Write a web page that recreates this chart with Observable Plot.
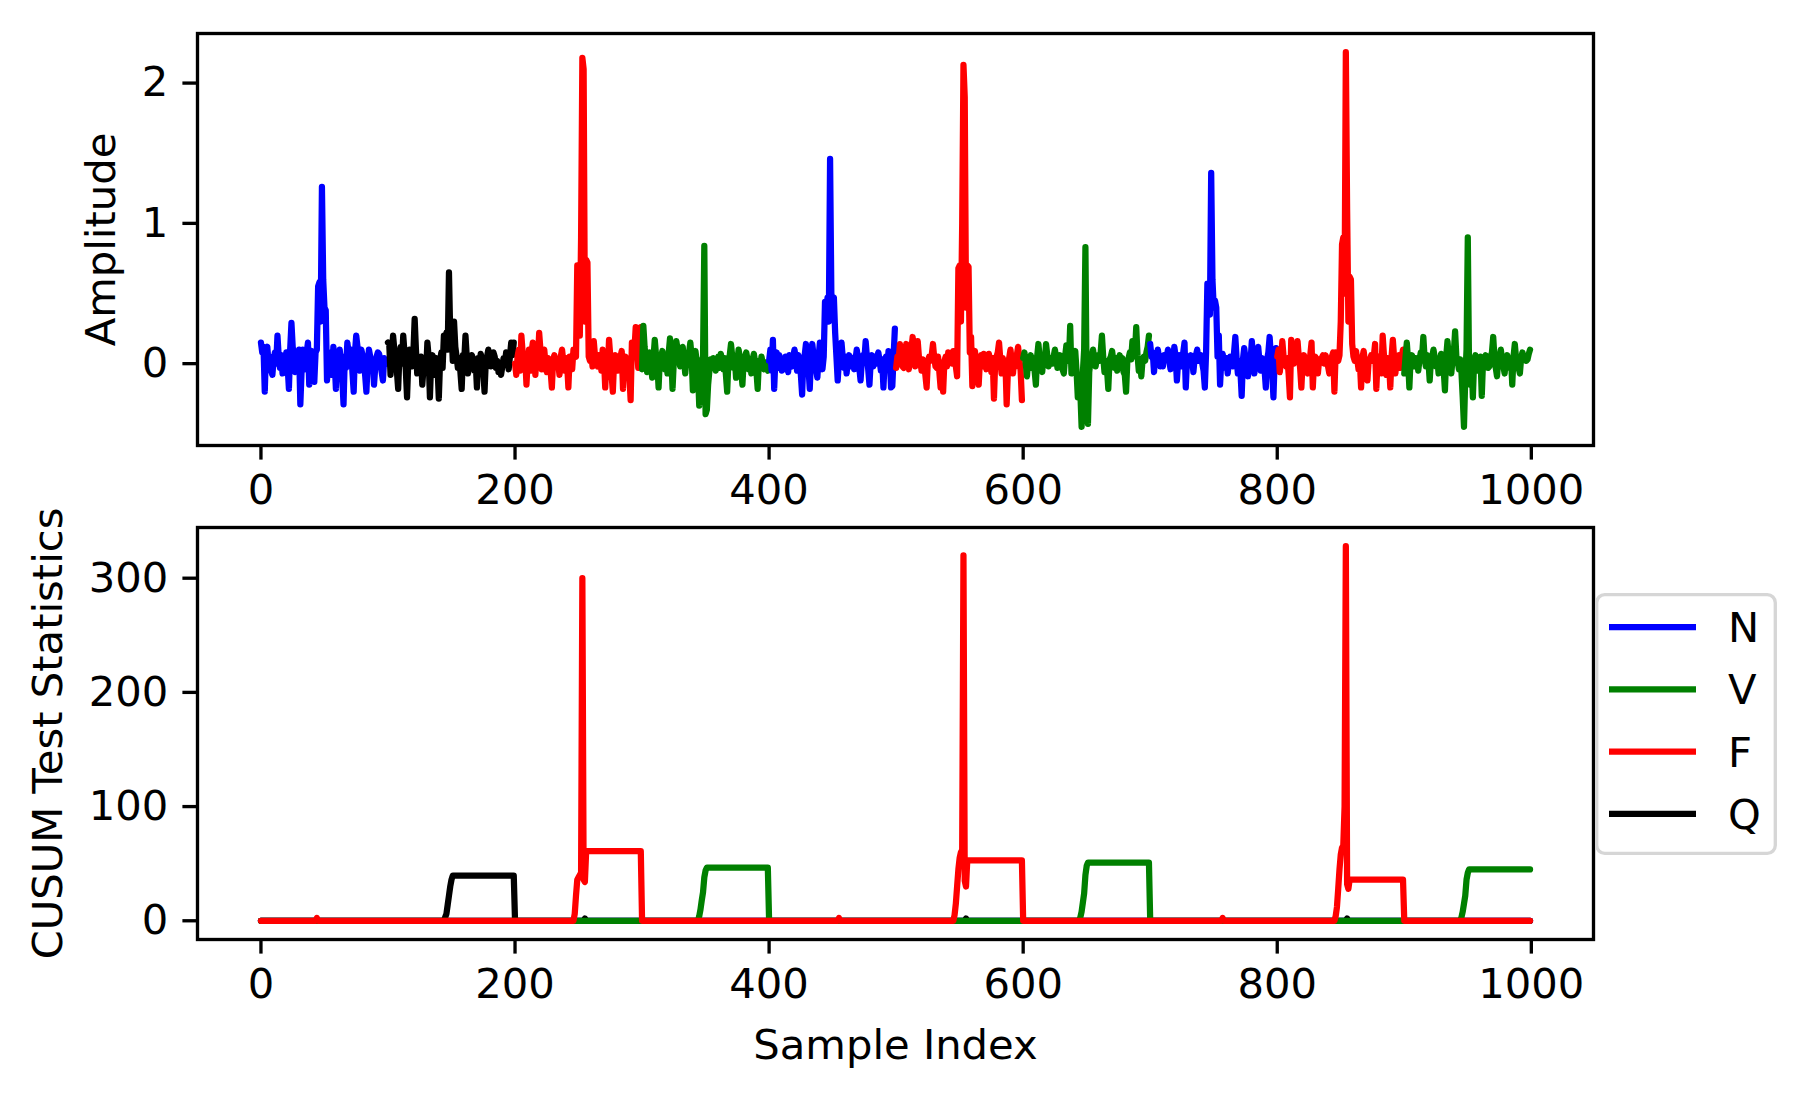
<!DOCTYPE html>
<html>
<head>
<meta charset="utf-8">
<script src="https://cdn.jsdelivr.net/npm/d3@7"></script>
<script src="https://cdn.jsdelivr.net/npm/@observablehq/plot@0.6"></script>
<style>
  body { margin: 0; background: #fff; }
  #fig { position: relative; width: 1805px; height: 1099px; background: #fff; font-family: "DejaVu Sans", sans-serif; }
  #fig > svg { position: absolute; left: 0; }
</style>
</head>
<body>
<div id="fig"></div>
<script>
// ---------------- data ----------------
const classes = ["N", "V", "F", "Q"];
const classColors = ["#0000ff", "#008000", "#ff0000", "#000000"];
const segmentClasses = ["N", "Q", "F", "V", "N", "F", "V", "N", "F", "V"];
const segmentLength = 100;

const amplitude = [
  // 0-99 N
  0.15, 0.08, 0.12, -0.20, 0.10, 0.12, 0.00, 0.05, -0.05, -0.08,
  0.03, 0.08, 0.00, 0.20, 0.05, -0.03, 0.06, -0.07, 0.04, 0.00,
  0.08, -0.02, -0.18, 0.10, 0.29, 0.12, 0.05, -0.06, 0.08, 0.02,
  0.10, -0.29, -0.05, 0.10, 0.06, -0.04, 0.08, 0.15, -0.15, 0.05,
  0.09, 0.02, -0.13, 0.08, 0.10, 0.55, 0.58, 0.30, 1.26, 0.60,
  0.40, 0.38, -0.12, 0.08, -0.05, 0.03, -0.08, 0.12, 0.02, -0.18,
  0.06, -0.04, 0.10, 0.00, -0.10, -0.29, 0.05, -0.03, 0.15, 0.08,
  0.02, 0.10, -0.06, -0.20, 0.08, 0.20, 0.12, 0.05, -0.05, 0.10,
  0.06, 0.02, -0.08, -0.20, 0.00, 0.10, 0.05, -0.04, 0.03, -0.15,
  -0.02, 0.05, 0.08, 0.07, 0.02, -0.06, -0.12, 0.04, 0.01, 0.00,
  // 100-199 Q
  0.15, 0.14, -0.08, 0.05, 0.20, 0.10, 0.02, -0.05, -0.18, 0.06,
  0.12, 0.00, 0.20, 0.08, -0.04, -0.24, 0.02, 0.10, 0.05, -0.02,
  0.08, 0.32, 0.10, -0.07, 0.02, -0.04, 0.05, -0.15, -0.03, 0.04,
  -0.06, 0.15, 0.05, -0.24, 0.02, 0.06, 0.03, -0.08, 0.04, -0.02,
  -0.25, 0.02, 0.08, -0.03, 0.20, 0.18, 0.22, 0.10, 0.65, 0.20,
  0.25, 0.02, 0.30, 0.12, 0.05, -0.03, 0.04, -0.06, -0.18, 0.06,
  0.02, 0.20, 0.05, -0.07, 0.03, -0.03, 0.06, 0.03, -0.05, 0.02,
  -0.17, 0.04, 0.00, 0.07, 0.03, -0.05, -0.20, 0.02, 0.05, 0.10,
  0.04, -0.02, 0.06, 0.08, 0.05, -0.03, 0.02, -0.06, 0.00, -0.08,
  -0.02, 0.04, 0.00, 0.08, 0.03, -0.04, 0.05, 0.15, 0.06, 0.15,
  // 200-299 F
  0.00, -0.08, 0.05, 0.10, -0.05, 0.20, 0.08, -0.03, 0.05, -0.15,
  0.02, 0.10, -0.05, 0.08, 0.15, 0.05, -0.08, 0.06, 0.02, 0.22,
  0.10, -0.04, 0.05, 0.10, 0.00, -0.06, 0.04, 0.02, -0.05, -0.17,
  0.03, 0.06, -0.02, 0.03, 0.00, -0.08, 0.05, 0.10, 0.02, -0.05,
  0.04, 0.00, -0.17, 0.05, 0.02, -0.04, 0.10, 0.06, 0.05, 0.70,
  0.68, 0.20, 0.90, 2.18, 2.10, 0.30, 0.74, 0.72, 0.05, 0.02,
  0.08, -0.02, 0.16, 0.05, 0.00, -0.02, 0.06, 0.02, -0.05, 0.10,
  0.04, -0.17, 0.02, -0.05, 0.17, 0.05, -0.08, -0.20, 0.02, 0.06,
  0.03, -0.05, 0.00, 0.05, 0.09, -0.18, 0.02, 0.05, -0.04, 0.00,
  -0.08, -0.26, 0.15, 0.05, 0.10, 0.26, 0.12, -0.03, 0.10, 0.26,
  // 300-399 V
  -0.04, 0.27, 0.12, 0.02, -0.06, 0.05, 0.08, -0.02, -0.10, 0.04,
  0.17, 0.06, 0.00, -0.17, 0.03, 0.05, 0.09, 0.02, -0.04, 0.05,
  -0.07, 0.08, 0.18, 0.05, -0.18, 0.02, 0.08, 0.16, 0.10, 0.03,
  -0.02, 0.06, 0.12, 0.02, -0.07, 0.04, 0.00, 0.08, 0.15, 0.05,
  -0.19, 0.03, 0.09, 0.02, -0.05, -0.30, -0.10, 0.02, 0.05, 0.84,
  -0.36, -0.33, -0.15, -0.05, 0.03, -0.02, 0.04, 0.00, -0.05, 0.02,
  0.05, -0.03, 0.07, 0.02, -0.04, 0.04, -0.08, -0.20, 0.02, 0.06,
  0.14, 0.05, -0.03, 0.04, -0.10, 0.02, 0.10, 0.04, -0.05, -0.15,
  0.02, 0.05, 0.08, 0.03, -0.04, 0.02, -0.07, 0.03, 0.07, 0.01,
  -0.05, -0.18, 0.02, -0.02, 0.05, 0.00, -0.04, 0.01, -0.03, -0.05,
  // 400-499 N
  0.02, 0.10, -0.05, 0.17, -0.18, 0.04, 0.08, -0.03, 0.06, 0.02,
  -0.05, 0.03, -0.04, 0.05, 0.00, -0.06, 0.06, 0.02, -0.02, 0.05,
  0.10, 0.04, -0.05, 0.06, 0.02, -0.08, -0.22, 0.03, 0.06, 0.14,
  0.05, -0.03, -0.18, 0.04, 0.14, 0.06, 0.02, -0.04, -0.10, 0.05,
  0.15, 0.06, -0.04, 0.05, 0.44, 0.40, 0.47, 0.30, 1.46, 0.50,
  0.45, 0.47, 0.22, 0.05, -0.12, 0.03, 0.08, 0.15, 0.04, -0.03,
  0.05, -0.07, 0.02, 0.06, -0.02, 0.00, 0.04, -0.04, 0.03, 0.10,
  0.04, -0.03, -0.12, 0.02, 0.06, 0.03, 0.16, 0.05, -0.04, -0.15,
  0.02, 0.06, -0.02, 0.03, 0.00, 0.05, 0.08, 0.02, -0.05, 0.03,
  -0.17, 0.02, 0.05, -0.02, 0.09, 0.03, -0.17, -0.16, 0.05, 0.25,
  // 500-599 F
  -0.03, 0.05, 0.02, 0.14, 0.05, -0.02, -0.03, 0.06, 0.14, 0.02,
  -0.04, 0.05, 0.10, 0.19, 0.06, -0.02, 0.08, 0.16, 0.04, 0.02,
  -0.05, 0.03, 0.00, -0.08, -0.17, 0.02, 0.05, 0.02, 0.06, 0.14,
  0.04, -0.02, -0.03, 0.05, -0.06, -0.17, 0.00, -0.20, 0.02, 0.05,
  -0.02, 0.08, 0.03, 0.06, 0.00, 0.09, 0.04, -0.02, -0.09, 0.68,
  0.70, 0.30, 1.00, 2.13, 1.90, 0.40, 0.70, 0.69, 0.08, 0.19,
  -0.16, 0.04, 0.09, 0.02, -0.05, -0.15, 0.03, 0.06, -0.02, 0.07,
  0.02, -0.04, 0.03, 0.07, 0.02, -0.06, 0.04, -0.25, 0.02, 0.05,
  0.08, 0.15, 0.03, -0.07, 0.04, -0.03, 0.02, -0.29, -0.05, 0.04,
  0.10, 0.02, -0.07, 0.05, -0.02, 0.06, 0.12, 0.03, -0.05, -0.26,
  // 600-699 V
  0.04, 0.08, 0.00, -0.09, 0.03, 0.02, 0.06, -0.03, 0.04, -0.05,
  -0.15, 0.05, 0.14, 0.04, -0.02, -0.06, 0.05, 0.02, 0.14, 0.06,
  -0.02, 0.03, 0.04, 0.00, 0.05, 0.10, 0.04, -0.03, 0.02, 0.06,
  0.01, -0.04, -0.07, 0.05, 0.13, 0.04, 0.02, 0.27, -0.07, 0.03,
  0.05, 0.09, -0.05, -0.24, -0.10, -0.20, -0.45, -0.06, 0.10, 0.83,
  -0.20, -0.43, -0.06, 0.02, 0.05, 0.10, 0.03, -0.02, 0.04, 0.06,
  0.02, 0.08, 0.20, 0.05, -0.06, 0.02, -0.04, -0.18, 0.03, 0.05,
  0.09, 0.02, -0.03, 0.04, -0.05, 0.02, 0.06, 0.00, 0.04, -0.06,
  -0.08, -0.20, 0.02, 0.04, 0.08, 0.03, 0.16, 0.05, 0.08, 0.26,
  0.06, -0.05, 0.02, -0.09, 0.03, 0.05, 0.02, 0.08, 0.12, 0.20,
  // 700-799 N
  0.14, 0.05, 0.08, -0.06, 0.04, 0.02, 0.10, 0.04, -0.02, 0.05,
  -0.02, 0.06, 0.03, 0.05, 0.10, 0.02, -0.04, 0.06, 0.03, 0.12,
  0.05, -0.12, 0.02, 0.06, 0.04, -0.02, 0.08, 0.15, -0.17, 0.03,
  0.05, 0.00, 0.06, 0.02, -0.06, 0.04, 0.06, 0.10, 0.02, 0.05,
  0.06, 0.00, -0.05, -0.17, 0.08, 0.57, 0.45, 0.35, 1.36, 0.60,
  0.40, 0.45, 0.40, 0.05, 0.20, -0.15, 0.03, 0.07, 0.02, -0.03,
  0.04, -0.07, 0.02, 0.05, 0.03, -0.02, 0.08, 0.19, 0.04, -0.07,
  0.02, -0.05, -0.23, 0.03, 0.11, 0.04, -0.02, -0.09, 0.05, 0.02,
  0.16, 0.04, -0.07, 0.03, 0.06, 0.12, 0.02, -0.05, 0.04, 0.01,
  -0.04, -0.17, 0.03, 0.08, 0.19, 0.05, -0.05, -0.24, 0.04, 0.11,
  // 800-899 F
  0.05, 0.10, -0.06, 0.03, 0.16, 0.05, 0.02, -0.02, 0.04, -0.08,
  -0.24, 0.17, 0.06, 0.00, 0.02, 0.05, 0.16, 0.04, -0.03, -0.17,
  0.02, 0.06, 0.02, -0.02, -0.07, 0.03, 0.06, 0.15, -0.17, 0.02,
  0.05, 0.00, -0.07, 0.03, 0.02, 0.04, 0.06, 0.00, 0.06, 0.03,
  -0.02, -0.07, 0.02, 0.05, 0.08, -0.20, 0.08, 0.04, 0.02, 0.06,
  0.30, 0.85, 0.90, 0.50, 2.22, 1.10, 0.30, 0.62, 0.60, 0.14,
  0.05, 0.02, 0.09, 0.03, -0.04, 0.02, -0.17, 0.04, 0.09, 0.02,
  -0.03, -0.12, 0.03, 0.02, 0.06, 0.02, 0.05, 0.14, -0.18, 0.03,
  0.05, 0.00, -0.07, 0.20, 0.06, 0.02, -0.08, 0.04, 0.00, -0.17,
  0.05, 0.17, 0.04, -0.07, 0.03, 0.02, 0.06, -0.03, 0.05, 0.10,
  // 900-999 V
  -0.07, 0.05, 0.15, 0.02, -0.17, 0.04, 0.06, 0.03, -0.02, 0.04,
  0.02, -0.05, 0.03, 0.08, 0.05, 0.19, 0.04, -0.02, 0.06, 0.02,
  -0.12, 0.03, 0.05, 0.10, 0.04, -0.02, 0.03, -0.07, 0.02, 0.07,
  0.03, -0.04, -0.19, 0.05, 0.16, 0.05, 0.02, -0.07, 0.03, 0.08,
  0.23, 0.05, 0.02, -0.04, 0.03, -0.06, -0.24, -0.45, -0.10, 0.10,
  0.90, -0.06, -0.15, 0.02, -0.24, 0.03, 0.06, 0.02, -0.05, 0.03,
  0.05, -0.23, 0.02, 0.04, 0.06, 0.02, -0.03, -0.02, 0.05, 0.08,
  0.19, 0.04, -0.03, -0.09, 0.03, 0.05, 0.10, 0.03, -0.02, -0.07,
  0.03, 0.06, 0.02, -0.03, 0.04, -0.15, 0.05, 0.14, 0.04, 0.02,
  -0.03, -0.07, 0.04, 0.08, 0.03, 0.05, 0.02, 0.03, 0.07, 0.10
];

// CUSUM test statistics per class, as (sample index, value) breakpoints
const cusumXN = [0, 999];
const cusumYN = [0, 0];
const cusumXQ = [0, 144, 145, 146, 147, 148, 149, 150, 151, 199, 200, 254, 255, 256, 554, 555, 556, 854, 855, 856, 999];
const cusumYQ = [0, 0, 3, 6, 14, 22, 30, 36, 39.5, 39.5, 0, 0, 2, 0, 0, 2, 0, 0, 2, 0, 0];
const cusumXV = [0, 344, 345, 346, 347, 348, 349, 350, 351, 399, 400,
                 644, 645, 646, 647, 648, 649, 650, 651, 699, 700,
                 944, 945, 946, 947, 948, 949, 950, 951, 999];
const cusumYV = [0, 0, 4, 10, 18, 25, 38, 44, 46.5, 46.5, 0,
                 0, 3, 8, 16, 24, 40, 48, 51, 51, 0,
                 0, 3, 8, 15, 22, 36, 42, 45, 45];
const cusumXF = [0, 43, 44, 45,
                 246, 247, 248, 249, 250, 251, 252, 253, 254, 255, 256, 299, 300,
                 454, 455, 456,
                 545, 546, 547, 548, 549, 550, 551, 552, 553, 554, 555, 556, 599, 600,
                 756, 757, 758,
                 845, 846, 847, 848, 849, 850, 851, 852, 853, 854, 855, 856, 857, 899, 900, 999];
const cusumYF = [0, 0, 2.5, 0,
                 0, 6, 22, 36, 38, 40, 42, 300, 36, 34, 61, 61, 0,
                 0, 2.5, 0,
                 0, 5, 15, 30, 45, 55, 60, 62, 320, 35, 30, 53, 53, 0,
                 0, 2.5, 0,
                 0, 4, 12, 28, 45, 58, 64, 66, 100, 328, 32, 28, 36, 36, 0, 0];

const xTicks = [0, 200, 400, 600, 800, 1000];
const ampTicks = [0, 1, 2];
const cusumTicks = [0, 100, 200, 300];

// ---------------- drawing ----------------
const colorOf = Object.fromEntries(classes.map((c, i) => [c, classColors[i]]));
const FS = 41.7;   // 10pt @ 300dpi
const LW = 6.25;   // 1.5pt
const AW = 3.33;   // 0.8pt
const TL = 14.6;   // 3.5pt
const fontFamily = '"DejaVu Sans", sans-serif';
const pad = (lo, hi) => { const m = (hi - lo) * 0.05; return [lo - m, hi + m]; };

const ampData = amplitude.map((v, i) => {
  const seg = Math.floor(i / segmentLength);
  return { x: i, y: v, seg, cls: segmentClasses[seg] };
});
const xDomain = pad(0, amplitude.length - 1);
const ampDomain = pad(d3.min(amplitude), d3.max(amplitude));

const common = {
  width: 1805,
  marginLeft: 197,
  marginRight: 212,
  style: { fontFamily, fontSize: FS + "px", color: "#000", background: "none", overflow: "visible" }
};
const axisOpts = { tickSize: TL, tickPadding: TL, strokeWidth: AW, fontSize: FS, label: null, tickFormat: d => String(d) };
const yLabelOpts = { frameAnchor: "left", rotate: -90, textAnchor: "middle", lineAnchor: "middle", fontSize: FS, fill: "#000" };

const topPlot = Plot.plot({
  ...common,
  height: 520,
  marginTop: 33,
  marginBottom: 75,
  x: { domain: xDomain },
  y: { domain: ampDomain },
  color: { domain: classes, range: classColors },
  marks: [
    Plot.line(ampData, { x: "x", y: "y", z: "seg", stroke: "cls", strokeWidth: LW, strokeLinejoin: "round" }),
    Plot.frame({ stroke: "#000", strokeWidth: AW }),
    Plot.axisX({ ...axisOpts, ticks: xTicks }),
    Plot.axisY({ ...axisOpts, ticks: ampTicks }),
    Plot.text(["Amplitude"], { ...yLabelOpts, dx: -96 })
  ]
});
topPlot.style.top = "0px";

const toRows = (xs, ys, cls) => xs.map((x, i) => ({ x, y: ys[i], cls }));
const cusumRows = [
  ...toRows(cusumXN, cusumYN, "N"),
  ...toRows(cusumXQ, cusumYQ, "Q"),
  ...toRows(cusumXV, cusumYV, "V"),
  ...toRows(cusumXF, cusumYF, "F")
];
const cusumDomain = pad(0, d3.max(cusumRows, d => d.y));

const bottomPlot = Plot.plot({
  ...common,
  height: 639,
  marginTop: 67,
  marginBottom: 160,
  x: { domain: xDomain },
  y: { domain: cusumDomain },
  marks: [
    ...["N", "Q", "V", "F"].map(c =>
      Plot.line(cusumRows.filter(d => d.cls === c), { x: "x", y: "y", stroke: colorOf[c], strokeWidth: LW, strokeLinejoin: "round" })
    ),
    Plot.frame({ stroke: "#000", strokeWidth: AW }),
    Plot.axisX({ ...axisOpts, ticks: xTicks }),
    Plot.axisY({ ...axisOpts, ticks: cusumTicks }),
    Plot.text(["Sample Index"], { frameAnchor: "bottom", textAnchor: "middle", lineAnchor: "middle", dy: 106, fontSize: FS, fill: "#000" }),
    Plot.text(["CUSUM Test Statistics"], { ...yLabelOpts, dx: -149 })
  ]
});
bottomPlot.style.top = "460px";

const fig = document.getElementById("fig");
fig.appendChild(topPlot);
fig.appendChild(bottomPlot);

// legend
const lg = d3.select(fig).append("svg")
  .attr("width", 182).attr("height", 262)
  .style("position", "absolute").style("left", "1595px").style("top", "593px")
  .style("overflow", "visible");
lg.append("rect")
  .attr("x", 1.7).attr("y", 1.7).attr("width", 178.6).attr("height", 258.6)
  .attr("rx", 8).attr("fill", "#fff").attr("stroke", "#d6d6d6").attr("stroke-width", AW);
classes.forEach((c, i) => {
  const y = 34 + i * 62.3;
  lg.append("line").attr("x1", 14).attr("x2", 101).attr("y1", y).attr("y2", y)
    .attr("stroke", colorOf[c]).attr("stroke-width", LW);
  lg.append("text").attr("x", 133).attr("y", y).attr("dy", "0.36em")
    .attr("font-family", fontFamily).attr("font-size", FS).attr("fill", "#000").text(c);
});
</script>
</body>
</html>
